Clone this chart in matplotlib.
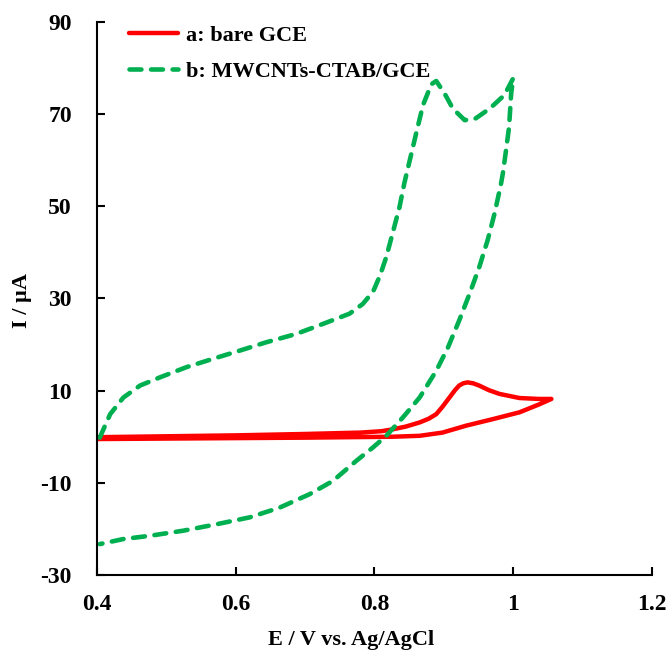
import matplotlib.pyplot as plt
from matplotlib.ticker import FixedLocator

# curve a: bare GCE (forward sweep with the oxidation peak, then back)
bare_E = [0.40, 0.50, 0.60, 0.70, 0.78, 0.81, 0.826, 0.845, 0.865, 0.878, 0.889,
          0.898, 0.908, 0.916, 0.922, 0.928, 0.934, 0.942, 0.951, 0.965, 0.980,
          1.009, 1.037, 1.055,
          1.037, 1.009, 0.970, 0.932, 0.898, 0.865, 0.826, 0.70, 0.60, 0.50, 0.40]
bare_I = [-0.1, 0.1, 0.3, 0.6, 0.9, 1.2, 1.6, 2.2, 3.1, 3.9, 4.9,
          6.5, 8.5, 10.1, 11.1, 11.6, 11.8, 11.6, 11.1, 10.1, 9.3,
          8.4, 8.2, 8.2,
          7.0, 5.3, 3.8, 2.4, 0.9, 0.2, 0.0, -0.2, -0.3, -0.4, -0.5]

# curve b: MWCNTs-CTAB/GCE
mw_E = [0.404, 0.419, 0.438, 0.462, 0.491, 0.529, 0.567, 0.606, 0.644, 0.687,
        0.726, 0.764, 0.783, 0.798, 0.808, 0.817, 0.826, 0.836, 0.843, 0.860,
        0.870, 0.882, 0.889, 0.901, 0.913, 0.930, 0.946, 0.966, 0.987, 1.000,
        0.997, 0.994, 0.989, 0.985, 0.982, 0.973, 0.963, 0.951, 0.937, 0.922,
        0.906, 0.889, 0.865, 0.841, 0.817, 0.798, 0.774, 0.740, 0.706, 0.663,
        0.620, 0.572, 0.524, 0.476, 0.438, 0.404]
mw_I = [-0.2, 4.9, 8.5, 11.1, 12.9, 15.1, 16.9, 18.7, 20.5, 22.3,
        24.5, 26.7, 28.8, 31.5, 35.0, 39.0, 44.1, 49.8, 55.0, 65.8,
        72.0, 76.5, 77.2, 74.5, 71.2, 68.7, 69.1, 71.2, 74.1, 77.8,
        74.5, 67.2, 61.5, 57.1, 54.6, 48.4, 42.6, 36.8, 31.0, 25.2,
        19.4, 14.3, 8.5, 4.2, 0.2, -2.3, -5.2, -9.6, -12.5, -15.4,
        -17.5, -19.0, -20.4, -21.5, -22.2, -23.3]

x_ticks = [0.4, 0.6, 0.8, 1.0, 1.2]
x_tick_labels = ["0.4", "0.6", "0.8", "1", "1.2"]
y_ticks = [-30, -10, 10, 30, 50, 70, 90]

plt.rcParams["font.family"] = ["Liberation Serif", "DejaVu Serif"]
plt.rcParams["font.weight"] = "bold"
plt.rcParams["axes.unicode_minus"] = False

fig = plt.figure(figsize=(6.67, 6.59), dpi=100)
ax = fig.add_axes([0.1454, 0.1275, 0.8321, 0.8391])

ax.plot(bare_E, bare_I, color="#FF0000", lw=3.2, solid_joinstyle="round",
        solid_capstyle="round", label="a: bare GCE")
ax.plot(mw_E, mw_I, color="#00B050", lw=3.3, linestyle=(0, (2.6, 2.1)),
        dash_capstyle="round", dash_joinstyle="round",
        label="b: MWCNTs-CTAB/GCE")

ax.set_xlim(0.4, 1.2)
ax.set_ylim(-30, 90)
ax.xaxis.set_major_locator(FixedLocator(x_ticks))
ax.set_xticklabels(x_tick_labels)
ax.yaxis.set_major_locator(FixedLocator(y_ticks))

for s in ["top", "right"]:
    ax.spines[s].set_visible(False)
for s in ["left", "bottom"]:
    ax.spines[s].set_linewidth(1.5)
ax.tick_params(direction="in", length=6, width=1.5, labelsize=17)
ax.tick_params(axis="y", pad=18)
ax.tick_params(axis="x", pad=14)
for lab in ax.get_xticklabels() + ax.get_yticklabels():
    lab.set_fontweight("bold")

ax.set_xlabel("E / V vs. Ag/AgCl", fontsize=16, fontweight="bold")
ax.set_ylabel("I / µA", fontsize=16, fontweight="bold")
ax.xaxis.set_label_coords(0.458, -0.1175)
ax.xaxis.label.set_va("center")
ax.yaxis.set_label_coords(-0.135, 0.497)
ax.yaxis.label.set_va("center")

ax.legend(loc="upper left", bbox_to_anchor=(0.021, 1.03), frameon=False,
          prop={"size": 16, "weight": "bold"}, handlelength=2.2,
          handletextpad=0.4, labelspacing=0.7)

fig.savefig("out.png", dpi=100)
